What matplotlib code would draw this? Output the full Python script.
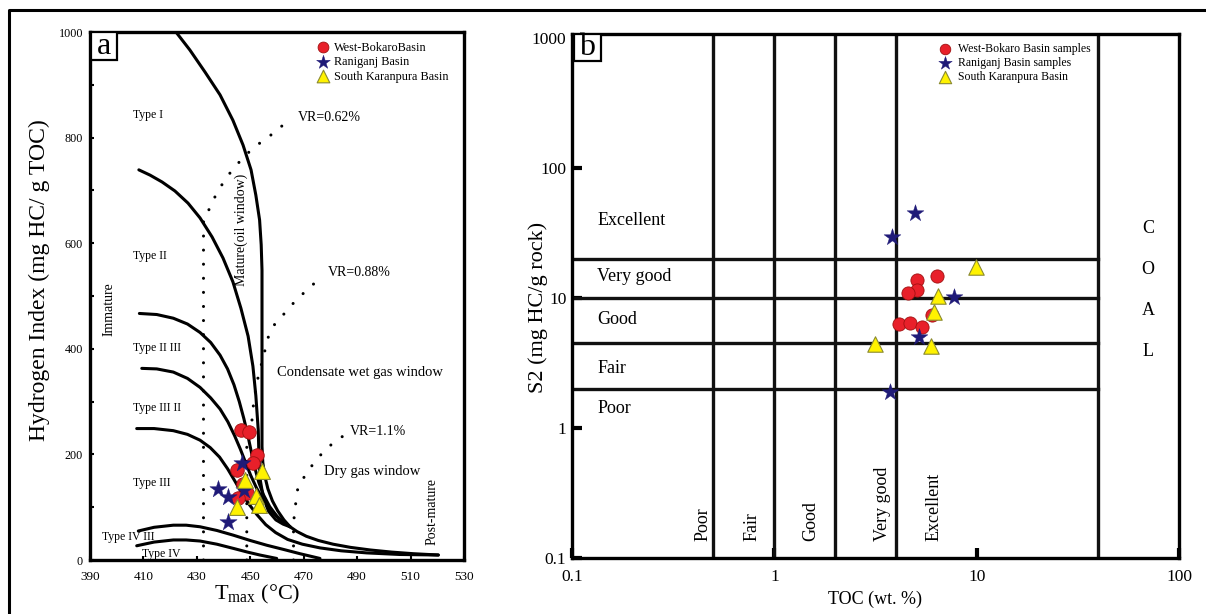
import numpy as np
import matplotlib.pyplot as plt
from matplotlib.lines import Line2D
from matplotlib.patches import Rectangle

plt.rcParams['font.family'] = ['Liberation Serif', 'DejaVu Serif']
plt.rcParams['mathtext.fontset'] = 'custom'
plt.rcParams['mathtext.rm'] = 'Liberation Serif'

# ---- panel a: HI vs Tmax samples ----
wb_tmax = [446.5, 449.6, 452.4, 451.1, 445.1, 447.4, 448.7, 445.5]
wb_hi   = [247, 242, 199, 183, 170, 144, 127, 117]
rg_tmax = [446.8, 438.0, 441.8, 447.7, 441.8]
rg_hi   = [183, 134, 119, 133, 72]
sk_tmax = [454.3, 448.0, 452.1, 453.3, 445.1]
sk_hi   = [169, 151, 122, 104, 100]

# kerogen type boundaries (Tmax, HI)
type_I = [(422.2, 1000), (427.4, 966), (433.1, 924), (438.7, 881), (443.5, 833),
          (447.3, 786), (450.3, 739), (452.1, 691), (453.5, 644), (454.1, 597),
          (454.4, 549), (454.4, 400), (454.4, 215), (454.7, 185), (455.4, 160),
          (456.6, 135), (458.3, 112), (460.3, 93), (462.6, 76), (464.9, 63),
          (467.5, 54), (471.0, 45), (475.5, 37), (481.0, 30), (487.5, 24),
          (495.0, 19), (503.0, 15), (511.0, 12), (520.4, 9.5)]
type_II = [(408.3, 739), (412.5, 729), (417.0, 716), (421.8, 699), (426.7, 676),
           (431.2, 648), (435.7, 612), (439.8, 572), (443.5, 527), (446.5, 477),
           (449.2, 424), (451.0, 367), (452.1, 311), (453.0, 246), (453.3, 189),
           (453.8, 150), (454.9, 118), (456.9, 92), (459.6, 76), (462.3, 68),
           (464.9, 63)]
type_II_III = [(408.5, 467), (415.0, 465), (421.2, 458), (426.5, 447), (431.2, 431),
               (435.2, 412), (438.7, 388), (441.5, 362), (443.9, 332), (445.9, 300),
               (447.6, 268), (449.1, 236), (450.4, 205), (451.7, 175), (453.2, 147),
               (455.0, 123), (457.3, 101), (460.0, 83), (462.5, 71), (464.9, 63)]
type_III_II = [(409.4, 363), (415.0, 362), (421.2, 356), (426.5, 344), (431.2, 327),
               (435.2, 307), (438.7, 286), (441.6, 262), (444.1, 236), (446.3, 210),
               (448.3, 184), (450.2, 160), (452.3, 137), (454.6, 116), (457.2, 97),
               (460.2, 81), (462.8, 70), (464.9, 63)]
type_III = [(407.5, 249), (414.0, 249), (421.2, 245), (426.5, 238), (431.2, 227),
            (435.0, 213), (438.5, 195), (441.5, 173), (444.2, 150), (446.8, 127),
            (449.5, 106), (452.5, 86), (455.8, 67), (459.5, 52), (464.0, 39),
            (469.5, 30), (476.1, 23), (484.0, 17.5), (493.6, 13.5), (506.0, 10.5),
            (520.4, 9.5)]
type_IV_III = [(408.1, 55), (414.0, 62), (421.2, 66), (426.0, 66), (431.2, 63),
               (437.5, 56), (443.7, 47), (450.0, 37), (456.2, 28), (462.5, 20),
               (468.6, 12), (476.1, 3)]
type_IV = [(407.5, 27), (414.0, 34), (421.2, 38), (426.0, 38), (431.2, 36),
           (437.5, 30), (443.7, 22), (449.0, 15), (453.6, 9.5), (459.9, 3)]

vr_062 = [(432.5, 0), (432.5, 650), (435.2, 668), (436.8, 688), (439.3, 710),
          (441.5, 727), (444.3, 745), (447.2, 761), (450.2, 776), (453.4, 789),
          (457.1, 802), (460.5, 818), (463.9, 828)]
vr_088 = [(448.7, 0), (448.7, 221), (450.2, 240), (451.1, 290), (452.4, 335),
          (454.9, 385), (456.8, 423), (459.3, 448), (461.8, 461), (464.9, 480),
          (468.0, 496), (471.1, 511), (474.2, 525), (477.4, 539)]
vr_11 = [(466.2, 0), (466.2, 60), (466.5, 88), (467.8, 136), (469.9, 155),
         (472.4, 174), (474.9, 191), (478.0, 208), (481.1, 222), (484.8, 235)]

type_labels = ["Type I", "Type II", "Type II III", "Type III II", "Type III",
               "Type IV III", "Type IV"]
type_label_pos = [(406.1, 843), (406.2, 576), (406.2, 402), (406.2, 288),
                  (406.2, 145), (394.4, 43), (409.4, 12)]

# ---- panel b: S2 vs TOC samples ----
wb_toc = [6.39, 5.06, 5.09, 4.60, 4.13, 4.69, 5.37, 6.00]
wb_s2  = [14.8, 13.8, 11.5, 11.0, 6.28, 6.39, 5.95, 7.40]
rg_toc = [4.96, 3.80, 7.76, 5.19, 3.73]
rg_s2  = [44.8, 29.6, 10.2, 5.04, 1.90]
sk_toc = [9.90, 6.47, 6.18, 3.16, 5.93]
sk_s2  = [17.2, 10.4, 7.85, 4.43, 4.27]

toc_limits = [0.5, 1, 2, 4, 40]
s2_limits = [2, 4.5, 10, 20]
s2_classes = ["Excellent", "Very good", "Good", "Fair", "Poor"]
s2_class_y = [39.1, 14.5, 6.77, 2.89, 1.40]
toc_classes = ["Poor", "Fair", "Good", "Very good", "Excellent"]
toc_class_x = [0.444, 0.776, 1.52, 3.41, 6.15]
coal_letters = ["C", "O", "A", "L"]
coal_y = [34.4, 16.4, 7.94, 3.84]

RED, RED_E = '#e8202a', '#a01010'
BLUE = '#1f1a78'
YEL, YEL_E = '#fff200', '#8a8a30'


def draw_samples(ax, xs, ys, labels, scale=1.0):
    ax.scatter(xs[0], ys[0], s=95 * scale, c=RED, edgecolors=RED_E, linewidths=0.6,
               marker='o', zorder=5, label=labels[0])
    ax.scatter(xs[1], ys[1], s=170 * scale, c=BLUE, edgecolors=BLUE, linewidths=0.3,
               marker='*', zorder=6, label=labels[1])
    ax.scatter(xs[2], ys[2], s=130 * scale, c=YEL, edgecolors=YEL_E, linewidths=0.8,
               marker='^', zorder=7, label=labels[2])


def panel_tag(ax, letter, w, h):
    # boxed panel letter in the upper left corner
    ax.add_patch(Rectangle((0.003, 1 - h), w, h, transform=ax.transAxes, fc='white',
                           ec='black', lw=1.6, zorder=10))
    ax.text(0.003 + w / 2, 1 - h / 2, letter, transform=ax.transAxes, fontsize=23,
            ha='center', va='center', zorder=11)


fig = plt.figure(figsize=(12.06, 6.14), dpi=100)

# outer frame running off the page to the right and bottom
fig.add_artist(Line2D([0.0075, 0.0075, 1.01], [-0.01, 0.9837, 0.9837],
                      transform=fig.transFigure, color='black', lw=2.2))

# ================= panel a =================
ax = fig.add_axes([0.0746, 0.0879, 0.3101, 0.8599])
ax.set_xlim(390, 530)
ax.set_ylim(0, 1000)

for curve in [type_I, type_II, type_II_III, type_III_II, type_III, type_IV_III, type_IV]:
    c = np.array(curve)
    ax.plot(c[:, 0], c[:, 1], color='black', lw=2.2, solid_capstyle='round',
            solid_joinstyle='round', zorder=3)
for curve in [vr_062, vr_088, vr_11]:
    c = np.array(curve)
    ax.plot(c[:, 0], c[:, 1], color='black', lw=2.2, linestyle=(0, (0.01, 4.6)),
            dash_capstyle='round', zorder=2)

draw_samples(ax, [wb_tmax, rg_tmax, sk_tmax], [wb_hi, rg_hi, sk_hi],
             ["West-BokaroBasin", "Raniganj Basin", "South Karanpura Basin"])

for lab, (x, y) in zip(type_labels, type_label_pos):
    ax.text(x, y, lab, fontsize=8.5, ha='left', va='center')
ax.text(397.0, 475, "Immature", rotation=90, fontsize=10, ha='center', va='center')
ax.text(446.8, 625, "Mature(oil window)", rotation=90, fontsize=10, ha='center', va='center')
ax.text(491.1, 355, "Condensate wet gas window", fontsize=10.5, ha='center', va='center')
ax.text(495.5, 167, "Dry gas window", fontsize=10.5, ha='center', va='center')
ax.text(517.9, 92, "Post-mature", rotation=90, fontsize=10, ha='center', va='center')
ax.text(467.9, 839, "VR=0.62%", fontsize=10, ha='left', va='center')
ax.text(479.1, 544, "VR=0.88%", fontsize=10, ha='left', va='center')
ax.text(487.1, 243, "VR=1.1%", fontsize=10, ha='left', va='center')

ax.set_xticks(np.arange(390, 531, 20))
ax.set_yticks(np.arange(0, 1001, 200))
ax.set_yticks(np.arange(100, 1000, 200), minor=True)
ax.tick_params(which='both', direction='in', length=3, width=1.5, pad=5)
ax.tick_params(axis='x', labelsize=9.5, pad=8)
ax.tick_params(axis='y', labelsize=8.7)
for s in ax.spines.values():
    s.set_linewidth(2.4)
ax.set_ylabel("Hydrogen Index (mg HC/ g TOC)", fontsize=17)
ax.yaxis.set_label_coords(-0.107, 0.53)
ax.set_xlabel(r"T$_{\mathrm{max}}$ (°C)", fontsize=16)
ax.xaxis.set_label_coords(0.447, -0.043)
panel_tag(ax, "a", 0.068, 0.053)
ax.legend(loc='upper left', bbox_to_anchor=(0.58, 0.998), frameon=False, fontsize=8.8,
          handletextpad=0.3, labelspacing=0.2, borderpad=0.2, handlelength=1.2,
          markerscale=0.8)

# ================= panel b =================
bx = fig.add_axes([0.4743, 0.0912, 0.5033, 0.8534])
bx.set_xscale('log')
bx.set_yscale('log')
bx.set_xlim(0.1, 100)
bx.set_ylim(0.1, 1070)

for v in toc_limits:
    bx.axvline(v, color='#111111', lw=2.4, zorder=2)
for h in s2_limits:
    bx.plot([0.1, toc_limits[-1]], [h, h], color='#111111', lw=2.4, zorder=2)

draw_samples(bx, [wb_toc, rg_toc, sk_toc], [wb_s2, rg_s2, sk_s2],
             ["West-Bokaro Basin samples", "Raniganj Basin samples",
              "South Karanpura Basin"], scale=0.95)

for lab, y in zip(s2_classes, s2_class_y):
    bx.text(0.133, y, lab, fontsize=13, ha='left', va='center')
for lab, x in zip(toc_classes, toc_class_x):
    bx.text(x, 0.135, lab, fontsize=13, rotation=90, ha='center', va='bottom')
for lab, y in zip(coal_letters, coal_y):
    bx.text(70.3, y, lab, fontsize=13, ha='center', va='center')

bx.set_xticks([0.1, 1, 10, 100])
bx.set_xticklabels(['0.1', '1', '10', '100'])
bx.set_yticks([0.1, 1, 10, 100, 1000])
bx.set_yticklabels(['0.1', '1', '10', '100', '1000'])
bx.minorticks_off()
bx.tick_params(direction='in', length=7, width=3, labelsize=12.5, pad=4)
bx.tick_params(axis='x', pad=8)
for s in bx.spines.values():
    s.set_linewidth(2.4)
bx.set_ylabel("S2 (mg HC/g rock)", fontsize=16)
bx.yaxis.set_label_coords(-0.039, 0.479)
bx.set_xlabel("TOC (wt. %)", fontsize=13, labelpad=4)
panel_tag(bx, "b", 0.044, 0.051)
bx.legend(loc='upper left', bbox_to_anchor=(0.59, 0.998), frameon=False, fontsize=8.5,
          handletextpad=0.5, labelspacing=0.15, borderpad=0.2, handlelength=1.2,
          markerscale=0.8)

fig.savefig("out.png", dpi=100)
